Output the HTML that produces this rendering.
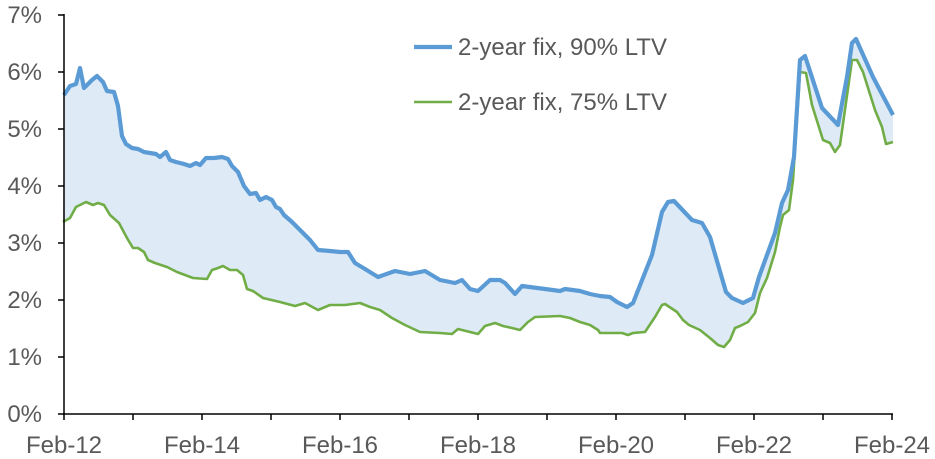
<!DOCTYPE html>
<html><head><meta charset="utf-8"><style>
html,body{margin:0;padding:0;background:#fff;}
svg{display:block;font-family:"Liberation Sans",Arial,sans-serif;}
</style></head><body>
<svg id="s" width="935" height="459" viewBox="0 0 935 459">
<polygon id="fill" fill="#deeaf6" stroke="none"/>
<polyline id="g" fill="none" stroke="#70ad47" stroke-width="2.6" stroke-linejoin="round"/>
<polyline id="b" fill="none" stroke="#5b9bd5" stroke-width="4.2" stroke-linejoin="round"/>
<g stroke="#000" stroke-width="1.5">
<line x1="64" y1="14" x2="64" y2="415"/>
<line x1="63" y1="414" x2="893" y2="414"/>
<line x1="58" y1="15" x2="64" y2="15"/><line x1="58" y1="72" x2="64" y2="72"/>
<line x1="58" y1="129" x2="64" y2="129"/><line x1="58" y1="186" x2="64" y2="186"/>
<line x1="58" y1="243" x2="64" y2="243"/><line x1="58" y1="300" x2="64" y2="300"/>
<line x1="58" y1="357" x2="64" y2="357"/><line x1="58" y1="414" x2="64" y2="414"/>
</g>
<g id="xt" stroke="#000" stroke-width="1.5"></g>
<g fill="#595959" font-size="24" text-anchor="end">
<text x="42" y="23">7%</text><text x="42" y="80">6%</text><text x="42" y="137">5%</text>
<text x="42" y="194">4%</text><text x="42" y="251">3%</text><text x="42" y="308">2%</text>
<text x="42" y="365">1%</text><text x="42" y="422">0%</text>
</g>
<g fill="#595959" font-size="24" text-anchor="middle">
<text x="64" y="453">Feb-12</text><text x="202" y="453">Feb-14</text><text x="340" y="453">Feb-16</text>
<text x="478" y="453">Feb-18</text><text x="616" y="453">Feb-20</text><text x="754" y="453">Feb-22</text>
<text x="892" y="453">Feb-24</text>
</g>
<line x1="414" y1="47" x2="452" y2="47" stroke="#5b9bd5" stroke-width="4.2"/>
<text x="458" y="55" fill="#595959" font-size="24">2-year fix, 90% LTV</text>
<line x1="414" y1="102" x2="452" y2="102" stroke="#70ad47" stroke-width="2.6"/>
<text x="458" y="110" fill="#595959" font-size="24">2-year fix, 75% LTV</text>
</svg>
<script>
var B=[[64,95],[70,86],[76,84],[80,68],[84,88],[92,80],[97,76],[103,82],[107,91],[114,92],[118,106],[122,136],[126,144],[132,148],[138,149],[144,152],[150,153],[156,154],[160,157],[166,152],[170,160],[176,162],[184,164],[190,166],[196,163],[200,165],[206,158],[214,158],[222,157],[228,159],[232,166],[238,172],[244,186],[250,194],[256,193],[260,200],[266,197],[272,200],[276,207],[280,209],[284,215],[292,222],[300,230],[310,240],[318,250],[330,251],[340,252],[348,252],[355,263],[365,269],[378,277],[395,271],[410,274],[425,271],[440,280],[455,283],[462,280],[470,289],[478,291],[490,280],[500,280],[505,283],[515,294],[522,286],[545,289],[560,291],[565,289],[580,291],[590,294],[600,296],[610,297],[617,302],[627,307],[633,303],[652,255],[662,212],[668,202],[674,201],[692,220],[702,223],[710,237],[726,292],[732,298],[743,303],[753,298],[759,277],[775,233],[782,203],[788,190],[794,157],[800,60],[805,56],[822,108],[838,125],[847,77],[852,43],[856,39],[873,77],[893,115]];
var G=[[63,222],[70,218],[76,207],[86,202],[93,205],[98,203],[104,205],[110,215],[119,223],[127,238],[133,248],[138,248],[144,252],[148,260],[155,263],[167,267],[177,272],[185,275],[193,278],[207,279],[212,270],[218,268],[223,266],[230,270],[237,270],[243,275],[247,289],[253,291],[263,298],[280,302],[295,306],[305,303],[318,310],[330,305],[345,305],[360,303],[370,307],[380,310],[392,318],[405,325],[420,332],[440,333],[452,334],[458,329],[470,332],[478,334],[485,326],[495,323],[503,326],[512,328],[520,330],[528,322],[535,317],[560,316],[570,318],[580,322],[590,325],[598,330],[600,333],[622,333],[628,335],[633,333],[645,332],[655,317],[662,305],[665,304],[677,312],[683,320],[689,325],[700,330],[710,338],[718,345],[724,347],[730,340],[735,328],[740,326],[748,322],[755,313],[760,293],[767,278],[775,252],[780,227],[783,215],[789,210],[793,180],[800,72],[806,73],[812,105],[823,140],[830,143],[835,152],[840,145],[852,60],[857,60],[863,72],[875,110],[882,127],[886,144],[893,142]];
function s(a){return a.map(function(p){return p.join(',')}).join(' ');}
document.getElementById('b').setAttribute('points',s(B));
document.getElementById('g').setAttribute('points',s(G));
document.getElementById('fill').setAttribute('points',s(B)+' '+s(G.slice().reverse()));
var xt=document.getElementById('xt'),h='';
for(var i=0;i<=12;i++){var x=64+i*69;h+='<line x1="'+x+'" y1="414" x2="'+x+'" y2="420"/>';}
xt.innerHTML=h;
</script>
</body></html>
